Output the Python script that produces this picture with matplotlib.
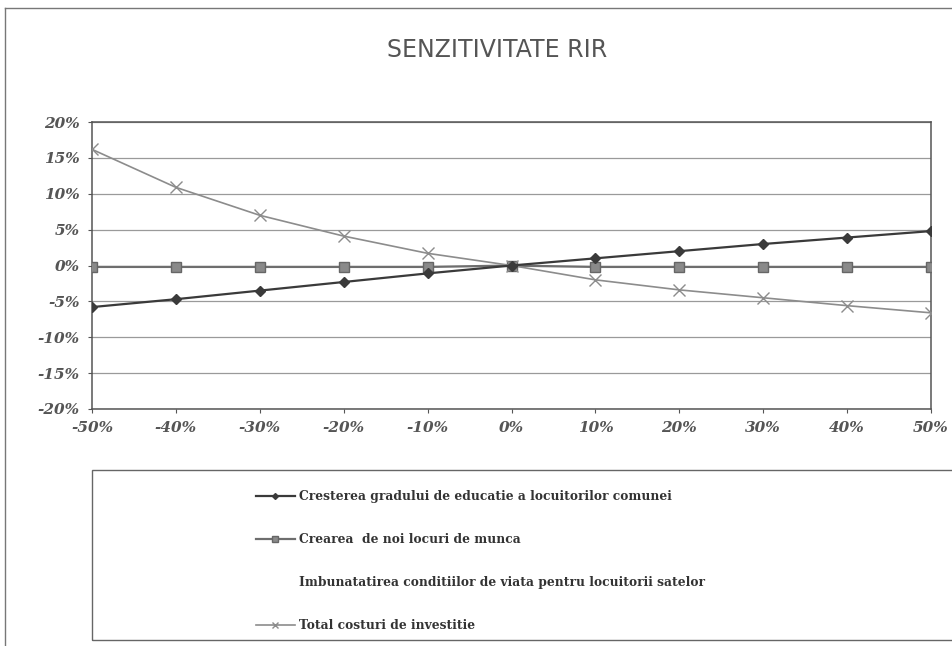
import matplotlib.pyplot as plt
import matplotlib.ticker as mtick
from matplotlib.lines import Line2D
from matplotlib.patches import Rectangle

# variation of the input (x axis)
variatie = [-50, -40, -30, -20, -10, 0, 10, 20, 30, 40, 50]

# RIR sensitivity per factor, in %
educatie = [-5.8, -4.7, -3.5, -2.3, -1.1, 0.0, 1.0, 2.0, 3.0, 3.9, 4.8]
locuri_munca = [-0.2, -0.2, -0.2, -0.2, -0.2, 0.0, -0.2, -0.2, -0.2, -0.2, -0.2]
conditii_viata = [0.0, 0.0, 0.0, 0.0, 0.0, 0.0, 0.0, 0.0, 0.0, 0.0, 0.0]
costuri_investitie = [16.2, 10.9, 7.0, 4.1, 1.7, 0.0, -2.0, -3.4, -4.5, -5.6, -6.6]

labels = ["Cresterea gradului de educatie a locuitorilor comunei",
          "Crearea  de noi locuri de munca",
          "Imbunatatirea conditiilor de viata pentru locuitorii satelor",
          "Total costuri de investitie"]

fig = plt.figure(figsize=(9.53, 6.46), dpi=100)
ax = fig.add_axes([0.0965, 0.367, 0.8805, 0.444])

ax.plot(variatie, educatie, color="#3a3a3a", lw=1.6, marker="D", ms=5,
        mfc="#3a3a3a", mec="#3a3a3a", label=labels[0], zorder=4)
ax.plot(variatie, locuri_munca, color="#6e6e6e", lw=1.6, marker="s", ms=7,
        mfc="#8a8a8a", mec="#666666", label=labels[1], zorder=3)
ax.plot(variatie, conditii_viata, color="white", lw=0, marker="none",
        label=labels[2], zorder=2)
ax.plot(variatie, costuri_investitie, color="#8c8c8c", lw=1.2, marker="x", ms=8,
        mec="#8c8c8c", label=labels[3], zorder=3)

ax.set_xlim(-50, 50)
ax.set_ylim(-20, 20)
ax.set_xticks(variatie)
ax.set_yticks(range(-20, 21, 5))
ax.xaxis.set_major_formatter(mtick.FuncFormatter(lambda v, p: "%d%%" % v))
ax.yaxis.set_major_formatter(mtick.FuncFormatter(lambda v, p: "%d%%" % v))
ax.grid(axis="y", color="#9a9a9a", lw=0.9)
ax.set_axisbelow(True)
for s in ax.spines.values():
    s.set_color("#555555")
    s.set_linewidth(1.1)
ax.tick_params(length=3, color="#555555", pad=6)
for t in ax.get_xticklabels() + ax.get_yticklabels():
    t.set_fontfamily("DejaVu Serif")
    t.set_fontweight("bold")
    t.set_fontstyle("italic")
    t.set_fontsize(11)
    t.set_color("#555555")

fig.text(0.522, 0.922, "SENZITIVITATE RIR", ha="center", va="center",
         fontsize=17, color="#555555", family="DejaVu Sans")

# legend box below the plot
fig.add_artist(Rectangle((0.0965, 0.01), 0.91, 0.262, transform=fig.transFigure,
                         fill=False, ec="#666666", lw=1.0))
handles, lbls = ax.get_legend_handles_labels()
leg = fig.legend(handles, lbls, loc="upper left", bbox_to_anchor=(0.262, 0.251),
                 frameon=False, handlelength=3.2, handletextpad=0.3,
                 labelspacing=2.45, borderpad=0, markerscale=0.6,
                 prop={"family": "DejaVu Serif", "weight": "bold", "size": 8.8})
for t in leg.get_texts():
    t.set_color("#333333")

# page border of the scan
fig.add_artist(Line2D([0.005, 0.005], [0.0, 0.988], transform=fig.transFigure,
                      color="#777777", lw=1.0))
fig.add_artist(Line2D([0.005, 1.0], [0.988, 0.988], transform=fig.transFigure,
                      color="#777777", lw=1.0))

fig.savefig("out.png", dpi=100)
